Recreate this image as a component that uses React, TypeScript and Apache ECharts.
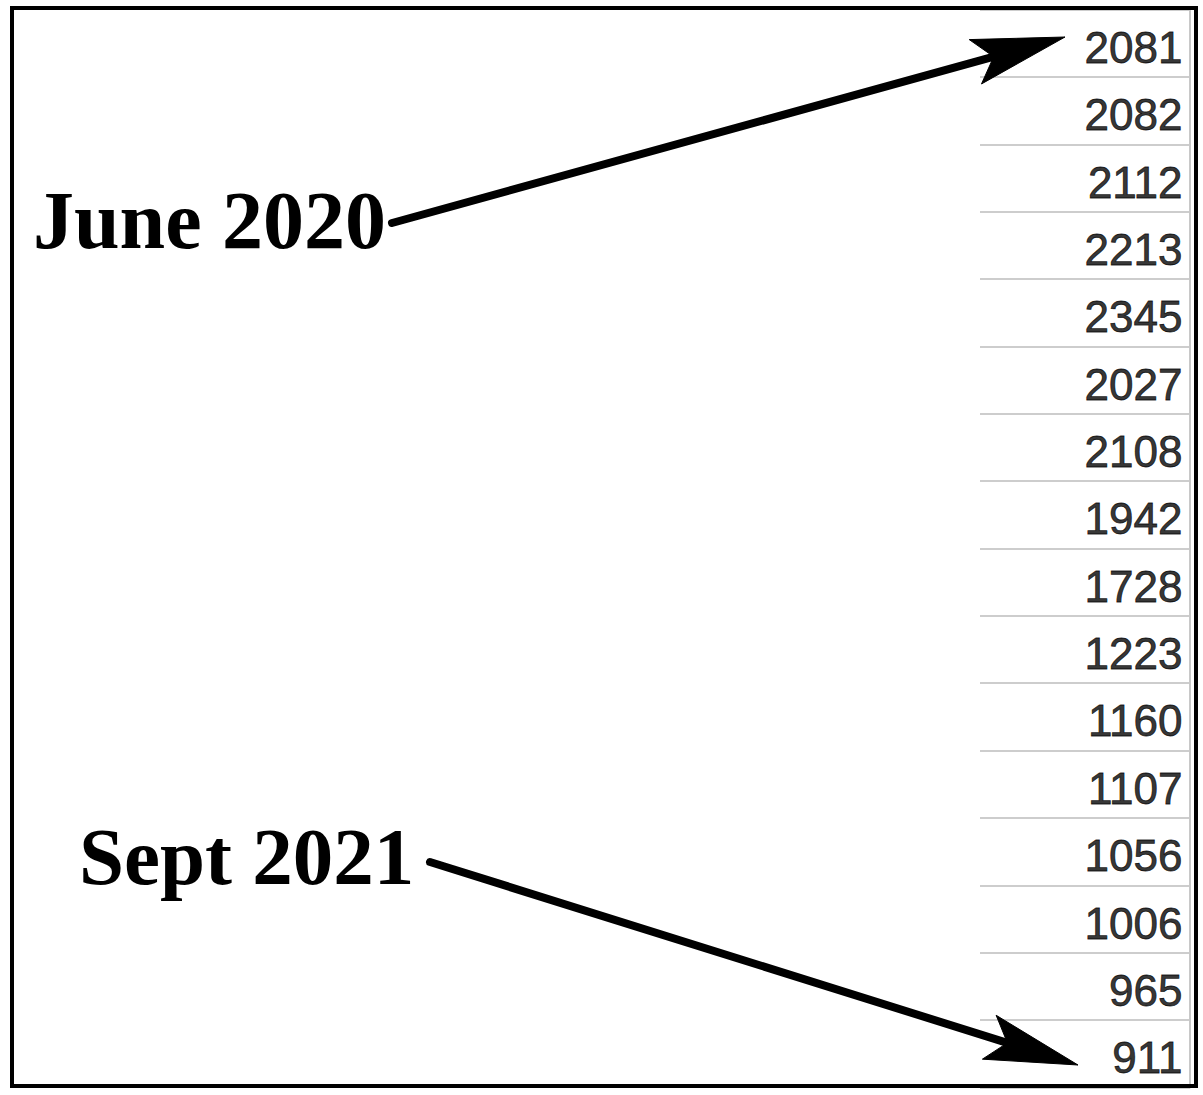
import React, { useEffect, useRef } from "react";
import * as echarts from "echarts";

// Spreadsheet column values (top to bottom)
const rowIds = ["r1", "r2", "r3", "r4", "r5", "r6", "r7", "r8", "r9", "r10", "r11", "r12", "r13", "r14", "r15", "r16"];
const values = [2081, 2082, 2112, 2213, 2345, 2027, 2108, 1942, 1728, 1223, 1160, 1107, 1056, 1006, 965, 911];
const annotationTexts = ["June 2020", "Sept 2021"];

type Pt = [number, number];

function arrow(start: Pt, tip: Pt) {
  const dx = tip[0] - start[0];
  const dy = tip[1] - start[1];
  const len = Math.sqrt(dx * dx + dy * dy);
  const ux = dx / len;
  const uy = dy / len;
  const nx = -uy;
  const ny = ux;
  const back = 93;
  const half = 23;
  const notch = 74;
  const b1: Pt = [tip[0] - ux * back + nx * half, tip[1] - uy * back + ny * half];
  const b2: Pt = [tip[0] - ux * back - nx * half, tip[1] - uy * back - ny * half];
  const nt: Pt = [tip[0] - ux * notch, tip[1] - uy * notch];
  const lineEnd: Pt = [tip[0] - ux * (notch - 4), tip[1] - uy * (notch - 4)];
  return [
    {
      type: "line",
      z: 100,
      shape: { x1: start[0], y1: start[1], x2: lineEnd[0], y2: lineEnd[1] },
      style: { stroke: "#000", lineWidth: 8, lineCap: "round" },
    },
    {
      type: "polygon",
      z: 100,
      shape: { points: [tip, b1, nt, b2] },
      style: { fill: "#000", stroke: "#000", lineWidth: 1, lineJoin: "round" },
    },
  ];
}

export default function App() {
  const ref = useRef<HTMLDivElement>(null);
  useEffect(() => {
    if (!ref.current) return;
    const chart = echarts.init(ref.current, undefined, { renderer: "svg" });
    const rowTop = 9.64;
    const rowBottom = 1087.4;
    chart.setOption({
      animation: false,
      backgroundColor: "#ffffff",
      grid: { left: 980, right: 13, top: rowTop, bottom: 1095 - rowBottom, containLabel: false },
      xAxis: { type: "value", min: 0, max: 1, show: false },
      yAxis: {
        type: "category",
        data: rowIds,
        inverse: true,
        position: "right",
        boundaryGap: true,
        axisLine: { show: true, onZero: false, lineStyle: { color: "#c8c8c8", width: 2 } },
        axisTick: { show: false },
        axisLabel: { show: false, interval: 0 },
        splitLine: { show: true, interval: 0, lineStyle: { color: "#cdcdcd", width: 2 } },
      },
      series: [
        {
          type: "scatter",
          symbolSize: 1,
          itemStyle: { color: "rgba(0,0,0,0)" },
          data: values.map((v, i) => [1, i, v]),
          label: {
            show: true,
            position: "left",
            distance: 7,
            offset: [0, 4],
            formatter: (p: any) => String(p.value[2]),
            fontFamily: "Liberation Sans",
            fontSize: 44,
            color: "#000000",
            textBorderColor: "#000000",
            textBorderWidth: 0.8,
          },
        },
      ],
      graphic: [
        {
          type: "rect",
          z: 110,
          shape: { x: 12, y: 8, width: 1184, height: 1078 },
          style: { fill: "none", stroke: "#000", lineWidth: 4 },
        },
        {
          type: "text",
          z: 100,
          x: 33,
          y: 220,
          style: {
            text: annotationTexts[0],
            fontFamily: "Liberation Serif",
            fontWeight: "bold",
            fontSize: 82,
            fill: "#000",
            verticalAlign: "middle",
            align: "left",
          },
        },
        {
          type: "text",
          z: 100,
          x: 79,
          y: 857,
          style: {
            text: annotationTexts[1],
            fontFamily: "Liberation Serif",
            fontWeight: "bold",
            fontSize: 81,
            fill: "#000",
            verticalAlign: "middle",
            align: "left",
          },
        },
        ...arrow([392, 223], [1065, 37]),
        ...arrow([430, 862], [1078, 1065]),
      ],
    });
    return () => chart.dispose();
  }, []);
  return (
    <div
      ref={ref}
      style={{ position: "absolute", left: 0, top: 0, width: 1203, height: 1095 }}
    />
  );
}
